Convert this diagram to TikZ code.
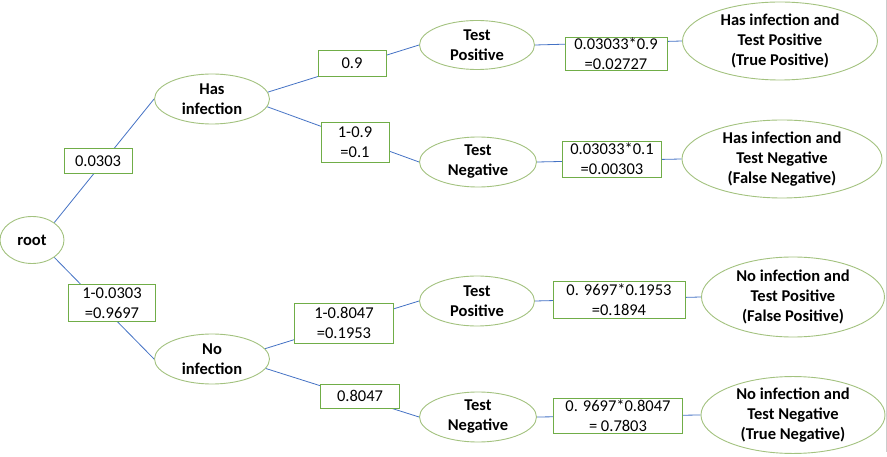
\documentclass[tikz,border=0pt]{standalone}
\usepackage{fontspec}
\setmainfont{Carlito}
\usetikzlibrary{shapes.geometric}
\pgfdeclarelayer{bg}
\pgfsetlayers{bg,main}
\definecolor{ellgreen}{HTML}{A3C27F}
\definecolor{boxgreen}{HTML}{70AD47}
\definecolor{linkblue}{HTML}{4472C4}
\tikzset{
  evt/.style={ellipse, draw=ellgreen, line width=0.9pt, fill=white, inner sep=0pt,
    align=center, font=\fontsize{16.5}{20}\selectfont\bfseries},
  prob/.style={rectangle, draw=boxgreen, line width=0.9pt, fill=white, inner sep=0pt,
    align=center, font=\fontsize{16.5}{20}\selectfont},
  link/.style={draw=linkblue, line width=0.8pt}
}
\begin{document}
\begin{tikzpicture}[x=1pt,y=-1pt]
\useasboundingbox (0,0) rectangle (887,457);
\draw[draw=black!20, line width=0.8pt] (886,0) -- (886,452);
% event ellipses
\node[evt, minimum width=64, minimum height=47] (root) at (32,240) {root};
\node[evt, minimum width=115, minimum height=50] (hi) at (212,99) {Has\\infection};
\node[evt, minimum width=115, minimum height=50] (ni) at (212,359) {No\\infection};
\node[evt, minimum width=115, minimum height=49] (tp1) at (477,45) {Test\\Positive};
\node[evt, minimum width=117, minimum height=50] (tn1) at (478,162) {Test\\Negative};
\node[evt, minimum width=115, minimum height=50] (tp2) at (477,301) {Test\\Positive};
\node[evt, minimum width=117, minimum height=50] (tn2) at (478,417) {Test\\Negative};
\node[evt, minimum width=195, minimum height=78] (r1) at (780,41) {Has infection and\\Test Positive\\(True Positive)};
\node[evt, minimum width=200, minimum height=78] (r2) at (782,159) {Has infection and\\Test Negative\\(False Negative)};
\node[evt, minimum width=183, minimum height=80] (r3) at (793,297) {No infection and\\Test Positive\\(False Positive)};
\node[evt, minimum width=184, minimum height=76] (r4) at (793,415) {No infection and\\Test Negative\\(True Negative)};
% probability boxes
\node[prob, minimum width=68, minimum height=25] (p1) at (98,161) {0.0303};
\node[prob, minimum width=87, minimum height=37] (p2) at (112,303) {1-0.0303\\=0.9697};
\node[prob, minimum width=68, minimum height=26] (p3) at (352,63) {0.9};
\node[prob, minimum width=68, minimum height=40] (p4) at (355,142) {1-0.9\\=0.1};
\node[prob, minimum width=99, minimum height=40] (p5) at (344,323) {1-0.8047\\=0.1953};
\node[prob, minimum width=79, minimum height=24] (p6) at (360,396) {0.8047};
\node[prob, minimum width=102, minimum height=33] (q1) at (616,54) {0.03033*0.9\\=0.02727};
\node[prob, minimum width=99, minimum height=36] (q2) at (612,159) {0.03033*0.1\\=0.00303};
\node[prob, minimum width=132, minimum height=37] (q3) at (619,300) {0. 9697*0.1953\\=0.1894};
\node[prob, minimum width=129, minimum height=35] (q4) at (618,416) {0. 9697*0.8047\\= 0.7803};
% connectors (behind the boxes)
\begin{pgfonlayer}{bg}
\draw[link] (root.38) -- (hi.west);
\draw[link] (root.-38) -- (ni.west);
\draw[link] (hi.7) -- (tp1.west);
\draw[link] (hi.-8) -- (tn1.west);
\draw[link] (ni.11) -- (tp2.west);
\draw[link] (ni.-10) -- (tn2.west);
\draw[link] (tp1.east) -- (r1.west);
\draw[link] (tn1.east) -- (r2.west);
\draw[link] (tp2.east) -- (r3.west);
\draw[link] (tn2.east) -- (r4.west);
\end{pgfonlayer}
\end{tikzpicture}
\end{document}
